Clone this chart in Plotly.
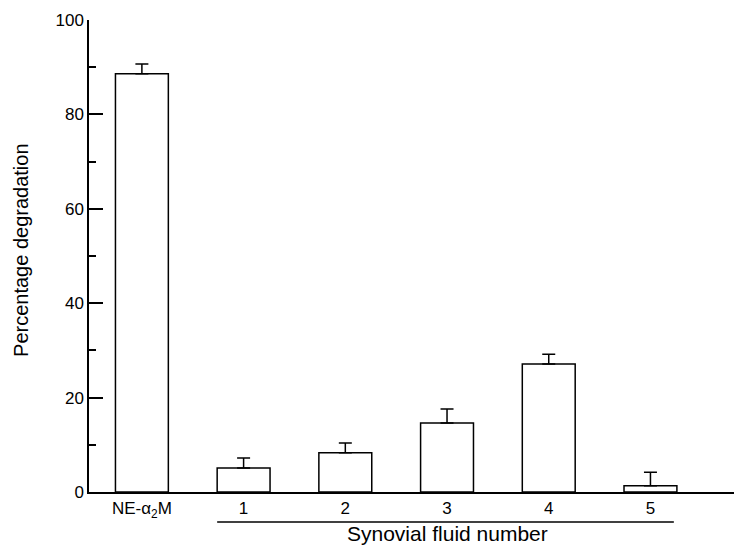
import plotly.graph_objects as go

categories = ["NE-α<sub>2</sub>M", "1", "2", "3", "4", "5"]
values = [88.6, 5.1, 8.3, 14.6, 27.1, 1.3]
errors = [2.1, 2.1, 2.1, 3.0, 2.1, 2.9]

FONT = "Liberation Sans, Arial, sans-serif"

fig = go.Figure()
fig.add_trace(go.Bar(
    x=list(range(len(categories))),
    y=values,
    width=0.52,
    marker=dict(color="white", line=dict(color="black", width=1.5)),
    error_y=dict(type="data", array=errors, arrayminus=[0] * len(errors),
                 symmetric=False, color="black", thickness=1.5, width=6.5),
    showlegend=False,
))

# page body has an 8px default margin, so the figure is sized to fit the 742x547 window
fig.update_layout(
    width=734, height=539,
    margin=dict(l=81, r=0, t=12, b=55, autoexpand=False),
    plot_bgcolor="white", paper_bgcolor="white",
    font=dict(family=FONT, size=17, color="black"),
)
fig.update_xaxes(
    range=[-0.52, 5.9], automargin=False,
    tickmode="array", tickvals=list(range(len(categories))), ticktext=categories,
    showline=True, linecolor="black", linewidth=1.5,
    ticks="", showgrid=False, zeroline=False,
    tickfont=dict(size=17),
)
fig.update_yaxes(
    range=[0, 100], tickvals=[0, 20, 40, 60, 80, 100], automargin=False,
    showline=True, linecolor="black", linewidth=1.5,
    ticks="inside", ticklen=14, tickwidth=1.5, tickcolor="black",
    minor=dict(dtick=10, ticks="inside", ticklen=7, tickwidth=1.5, tickcolor="black"),
    showgrid=False, zeroline=False,
    tickfont=dict(size=17),
)

fig.add_shape(type="line", xref="x", yref="paper",
              x0=0.74, x1=5.23, y0=-0.0636, y1=-0.0636,
              line=dict(color="black", width=1.5))
fig.add_annotation(text="Synovial fluid number", xref="x", yref="paper",
                   x=3.0, y=-0.1165, xanchor="center", yanchor="bottom",
                   showarrow=False, font=dict(size=21))
fig.add_annotation(text="Percentage degradation", xref="paper", yref="paper",
                   x=-0.104, y=0.513, xanchor="center", yanchor="middle",
                   textangle=-90, showarrow=False, font=dict(size=20))

fig.write_html("out.html")
